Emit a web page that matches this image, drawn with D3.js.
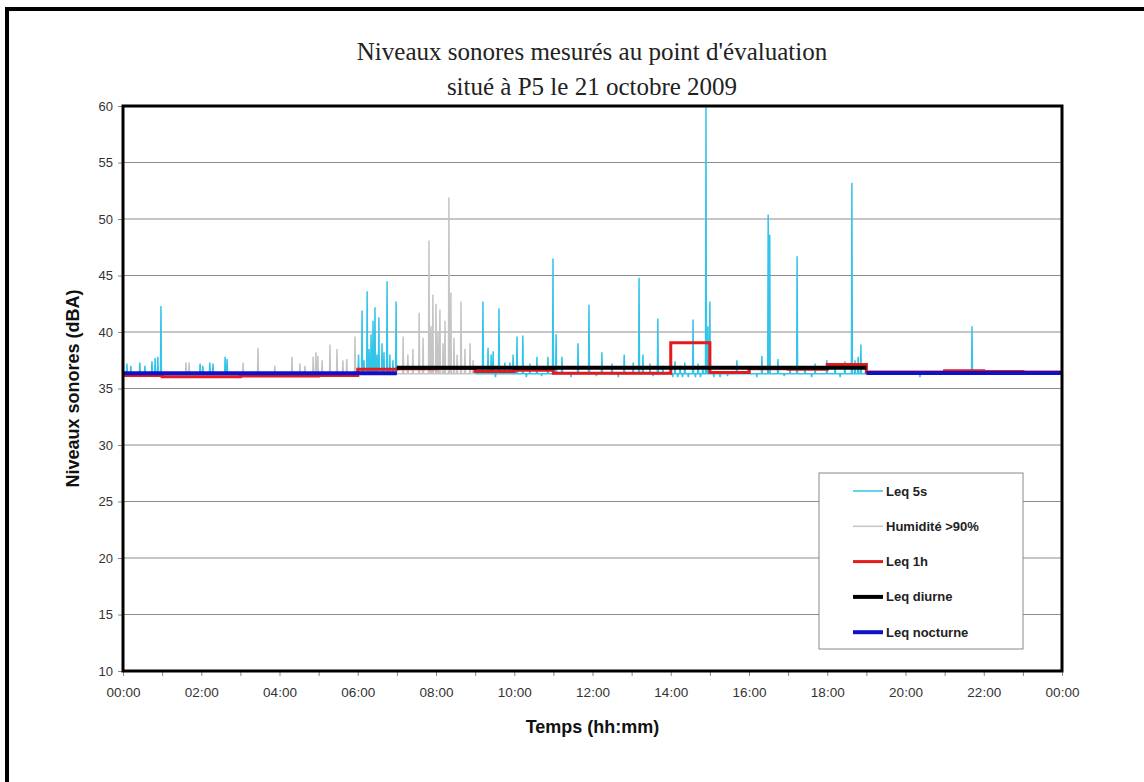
<!DOCTYPE html>
<html>
<head>
<meta charset="utf-8">
<script src="https://cdn.jsdelivr.net/npm/d3@7"></script>
<style>
  body { margin: 0; background: #fff; }
  svg { display: block; }
  .tick text { font-family: Arial, "Liberation Sans", sans-serif; fill: #333; }
</style>
</head>
<body>
<svg id="chart" width="1144" height="782"></svg>
<script>
// ---- data (hours since 00:00, dBA) ----
var yTicks = [10, 15, 20, 25, 30, 35, 40, 45, 50, 55, 60];
var xTickHours = [0, 2, 4, 6, 8, 10, 12, 14, 16, 18, 20, 22, 24];
var xTickLabels = ["00:00", "02:00", "04:00", "06:00", "08:00", "10:00", "12:00",
                   "14:00", "16:00", "18:00", "20:00", "22:00", "00:00"];

// Leq 5s: base level and the peaks / dips (hour, level)
var base5s = 36.3;
var segments5s = [[0, 1.0], [1.9, 2.9], [6.0, 7.0], [9.0, 24]];
var peaks5s = [
  [0.10, 37.2], [0.20, 37.0], [0.43, 37.3], [0.56, 37.0], [0.74, 37.4], [0.82, 37.7],
  [0.89, 37.8], [0.97, 42.3], [1.97, 37.2], [2.04, 37.0], [2.22, 37.3], [2.30, 37.2],
  [2.61, 37.8], [2.66, 37.6],
  [6.02, 38.0], [6.11, 41.9], [6.16, 37.5], [6.24, 43.6], [6.29, 38.5], [6.34, 39.8],
  [6.39, 41.0], [6.44, 42.2], [6.49, 38.0], [6.54, 41.3], [6.62, 39.0], [6.67, 38.2],
  [6.75, 44.5], [6.82, 38.0], [6.90, 37.5], [6.98, 42.7],
  [9.20, 42.7], [9.33, 38.6], [9.41, 38.0], [9.46, 38.3], [9.52, 36.0], [9.61, 42.1],
  [9.76, 37.3], [9.89, 37.3], [9.97, 38.0], [10.07, 39.6], [10.22, 39.7], [10.31, 36.0],
  [10.40, 37.2], [10.58, 37.8], [10.70, 36.1], [10.86, 37.8], [10.99, 46.5], [11.07, 39.8],
  [11.22, 37.8], [11.45, 36.0], [11.63, 39.0], [11.91, 42.4], [12.10, 36.1], [12.24, 38.2],
  [12.50, 37.2], [12.66, 36.0], [12.81, 38.0], [13.04, 37.3], [13.19, 44.8], [13.29, 38.0],
  [13.47, 37.2], [13.55, 36.1], [13.67, 41.2], [13.80, 37.0], [14.05, 36.0], [14.11, 37.4],
  [14.18, 36.0], [14.24, 37.0], [14.30, 36.0], [14.36, 37.3], [14.45, 36.0], [14.57, 41.1],
  [14.63, 36.0], [14.70, 37.2], [14.76, 36.0], [14.82, 37.0], [14.90, 60.0], [14.95, 40.5],
  [15.00, 42.7], [15.10, 36.0], [15.26, 36.0], [15.45, 36.1], [15.69, 37.5], [16.02, 37.0],
  [16.20, 36.0], [16.33, 37.9], [16.49, 50.4], [16.53, 48.6], [16.74, 37.6], [16.90, 36.1],
  [17.05, 37.0], [17.23, 46.7], [17.43, 37.0], [17.60, 36.0], [17.69, 37.2], [17.99, 37.5],
  [18.20, 37.0], [18.33, 36.0], [18.45, 37.4], [18.63, 53.2], [18.71, 37.5], [18.79, 37.8],
  [18.86, 38.9], [18.99, 37.0], [20.37, 36.0], [21.70, 40.5], [22.42, 36.6]
];

// Humidité > 90%: base level and peaks
var baseHum = 36.3;
var segmentsHum = [[1.0, 1.9], [2.9, 6.0], [7.0, 9.0]];
var peaksHum = [
  [1.61, 37.3], [1.69, 37.3], [3.07, 37.3], [3.45, 38.6], [3.88, 37.0], [4.32, 37.8],
  [4.52, 37.2], [4.65, 37.0], [4.86, 37.8], [4.93, 38.2], [4.98, 37.9], [5.09, 37.5],
  [5.29, 38.9], [5.47, 38.5], [5.62, 37.5], [5.72, 37.6], [5.93, 39.6],
  [7.16, 39.6], [7.28, 38.0], [7.41, 38.5], [7.57, 41.7], [7.67, 39.5], [7.82, 48.1],
  [7.87, 40.5], [7.92, 43.3], [8.00, 42.5], [8.05, 40.0], [8.10, 42.0], [8.18, 39.0],
  [8.23, 41.0], [8.33, 51.9], [8.38, 43.5], [8.46, 39.5], [8.54, 38.0], [8.64, 42.7],
  [8.74, 38.5], [8.87, 39.0], [8.95, 37.5]
];

// Leq 1h, one value per hour 00h..23h
var leq1h = [36.15, 36.05, 36.05, 36.1, 36.1, 36.15, 36.7, 36.75, 36.8, 36.5, 36.62, 36.35,
             36.35, 36.35, 39.05, 36.42, 36.75, 36.7, 37.12, 36.45, 36.45, 36.58, 36.5, 36.45];

// Leq diurne / nocturne periods [start, end, level]
var leqDiurne = [[7, 19, 36.84]];
var leqNocturne = [[0, 7, 36.35], [19, 24, 36.38]];

var legendItems = ["Leq 5s", "Humidité >90%", "Leq 1h", "Leq diurne", "Leq nocturne"];
var legendColors = ["#33c4ea", "#c4c4c4", "#e41a1c", "#000000", "#1010c8"];
var legendWidths = [1.5, 1.5, 3, 4, 4];

// ---- chart ----
var svg = d3.select("#chart"),
    margin = {top: 106, right: 82, bottom: 111, left: 123},
    width = +svg.attr("width") - margin.left - margin.right,
    height = +svg.attr("height") - margin.top - margin.bottom;

var x = d3.scaleLinear().domain([0, 24]).range([margin.left, margin.left + width]);
var y = d3.scaleLinear().domain([10, 60]).range([margin.top + height, margin.top]);

// outer frame (left + top)
svg.append("path")
    .attr("d", "M7,782 V9 H1144")
    .attr("fill", "none")
    .attr("stroke", "#000")
    .attr("stroke-width", 4);

// title
var title = svg.append("text")
    .attr("text-anchor", "middle")
    .style("font-family", "'Liberation Serif', 'Times New Roman', serif")
    .style("font-size", "25px")
    .attr("fill", "#222");
title.append("tspan").attr("x", 592).attr("y", 60).text("Niveaux sonores mesurés au point d'évaluation");
title.append("tspan").attr("x", 592).attr("y", 95).text("situé à P5 le 21 octobre 2009");

// grid
svg.append("g")
    .selectAll("line")
    .data(yTicks)
    .enter().append("line")
      .attr("x1", x(0)).attr("x2", x(24))
      .attr("y1", function(d) { return y(d); })
      .attr("y2", function(d) { return y(d); })
      .attr("stroke", "#8c8c8c")
      .attr("stroke-width", 1);

// axes
var yAxis = svg.append("g")
    .attr("transform", "translate(" + x(0) + ",0)")
    .call(d3.axisLeft(y).tickValues(yTicks).tickSize(5).tickPadding(5));
yAxis.select(".domain").remove();
yAxis.selectAll(".tick line").attr("stroke", "#888");
yAxis.selectAll(".tick text").style("font-size", "13px");

var xAxis = svg.append("g")
    .attr("transform", "translate(0," + y(10) + ")")
    .call(d3.axisBottom(x).tickValues(d3.range(0, 25)).tickSize(5).tickPadding(11)
      .tickFormat(function(d) {
        var i = xTickHours.indexOf(d);
        return i < 0 ? "" : xTickLabels[i];
      }));
xAxis.select(".domain").remove();
xAxis.selectAll(".tick line").attr("stroke", "#888");
xAxis.selectAll(".tick text").style("font-size", "13.5px");

// series helpers
function spikeSeries(segments, peaks, base) {
  var pts = [];
  segments.forEach(function(s) {
    pts.push([s[0], base]);
    peaks.filter(function(p) { return p[0] >= s[0] && p[0] <= s[1]; })
      .forEach(function(p) {
        pts.push([p[0] - 0.012, base], [p[0], p[1]], [p[0] + 0.012, base]);
      });
    pts.push([s[1], base]);
    pts.push(null);
  });
  return pts;
}

var line = d3.line()
    .defined(function(d) { return d !== null; })
    .x(function(d) { return x(d[0]); })
    .y(function(d) { return y(d[1]); });

var plot = svg.append("g");

plot.append("path")
    .datum(spikeSeries(segments5s, peaks5s, base5s))
    .attr("fill", "none")
    .attr("stroke", legendColors[0])
    .attr("stroke-width", 1.5)
    .attr("d", line);

plot.append("path")
    .datum(spikeSeries(segmentsHum, peaksHum, baseHum))
    .attr("fill", "none")
    .attr("stroke", legendColors[1])
    .attr("stroke-width", 1.5)
    .attr("d", line);

var stepLine = d3.line()
    .curve(d3.curveStepAfter)
    .x(function(d) { return x(d[0]); })
    .y(function(d) { return y(d[1]); });

var leq1hPts = leq1h.map(function(v, i) { return [i, v]; });
leq1hPts.push([24, leq1h[leq1h.length - 1]]);

plot.append("path")
    .datum(leq1hPts)
    .attr("fill", "none")
    .attr("stroke", legendColors[2])
    .attr("stroke-width", 3)
    .attr("d", stepLine);

plot.selectAll(".diurne")
    .data(leqDiurne)
    .enter().append("line")
      .attr("x1", function(d) { return x(d[0]); })
      .attr("x2", function(d) { return x(d[1]); })
      .attr("y1", function(d) { return y(d[2]); })
      .attr("y2", function(d) { return y(d[2]); })
      .attr("stroke", legendColors[3])
      .attr("stroke-width", 4);

plot.selectAll(".nocturne")
    .data(leqNocturne)
    .enter().append("line")
      .attr("x1", function(d) { return x(d[0]); })
      .attr("x2", function(d) { return x(d[1]); })
      .attr("y1", function(d) { return y(d[2]); })
      .attr("y2", function(d) { return y(d[2]); })
      .attr("stroke", legendColors[4])
      .attr("stroke-width", 4);

// plot frame
svg.append("rect")
    .attr("x", x(0)).attr("y", y(60))
    .attr("width", x(24) - x(0)).attr("height", y(10) - y(60))
    .attr("fill", "none")
    .attr("stroke", "#000")
    .attr("stroke-width", 3);

// axis titles
svg.append("text")
    .attr("transform", "translate(79," + ((y(10) + y(60)) / 2) + ") rotate(-90)")
    .attr("text-anchor", "middle")
    .style("font-family", "Arial, 'Liberation Sans', sans-serif")
    .style("font-weight", "bold")
    .style("font-size", "18px")
    .attr("fill", "#111")
    .text("Niveaux sonores (dBA)");

svg.append("text")
    .attr("x", (x(0) + x(24)) / 2)
    .attr("y", 733)
    .attr("text-anchor", "middle")
    .style("font-family", "Arial, 'Liberation Sans', sans-serif")
    .style("font-weight", "bold")
    .style("font-size", "18px")
    .attr("fill", "#111")
    .text("Temps (hh:mm)");

// legend
var lg = svg.append("g").attr("transform", "translate(819,473)");
lg.append("rect")
    .attr("width", 204).attr("height", 176)
    .attr("fill", "#fff")
    .attr("stroke", "#888")
    .attr("stroke-width", 1);

var item = lg.selectAll(".legend")
    .data(legendItems)
    .enter().append("g")
      .attr("transform", function(d, i) { return "translate(0," + (18 + i * 35.3) + ")"; });

item.append("line")
    .attr("x1", 34).attr("x2", 64)
    .attr("stroke", function(d, i) { return legendColors[i]; })
    .attr("stroke-width", function(d, i) { return legendWidths[i]; });

item.append("text")
    .attr("x", 67)
    .attr("dy", "0.35em")
    .style("font-family", "Arial, 'Liberation Sans', sans-serif")
    .style("font-weight", "bold")
    .style("font-size", "13px")
    .attr("fill", "#222")
    .text(function(d) { return d; });
</script>
</body>
</html>
